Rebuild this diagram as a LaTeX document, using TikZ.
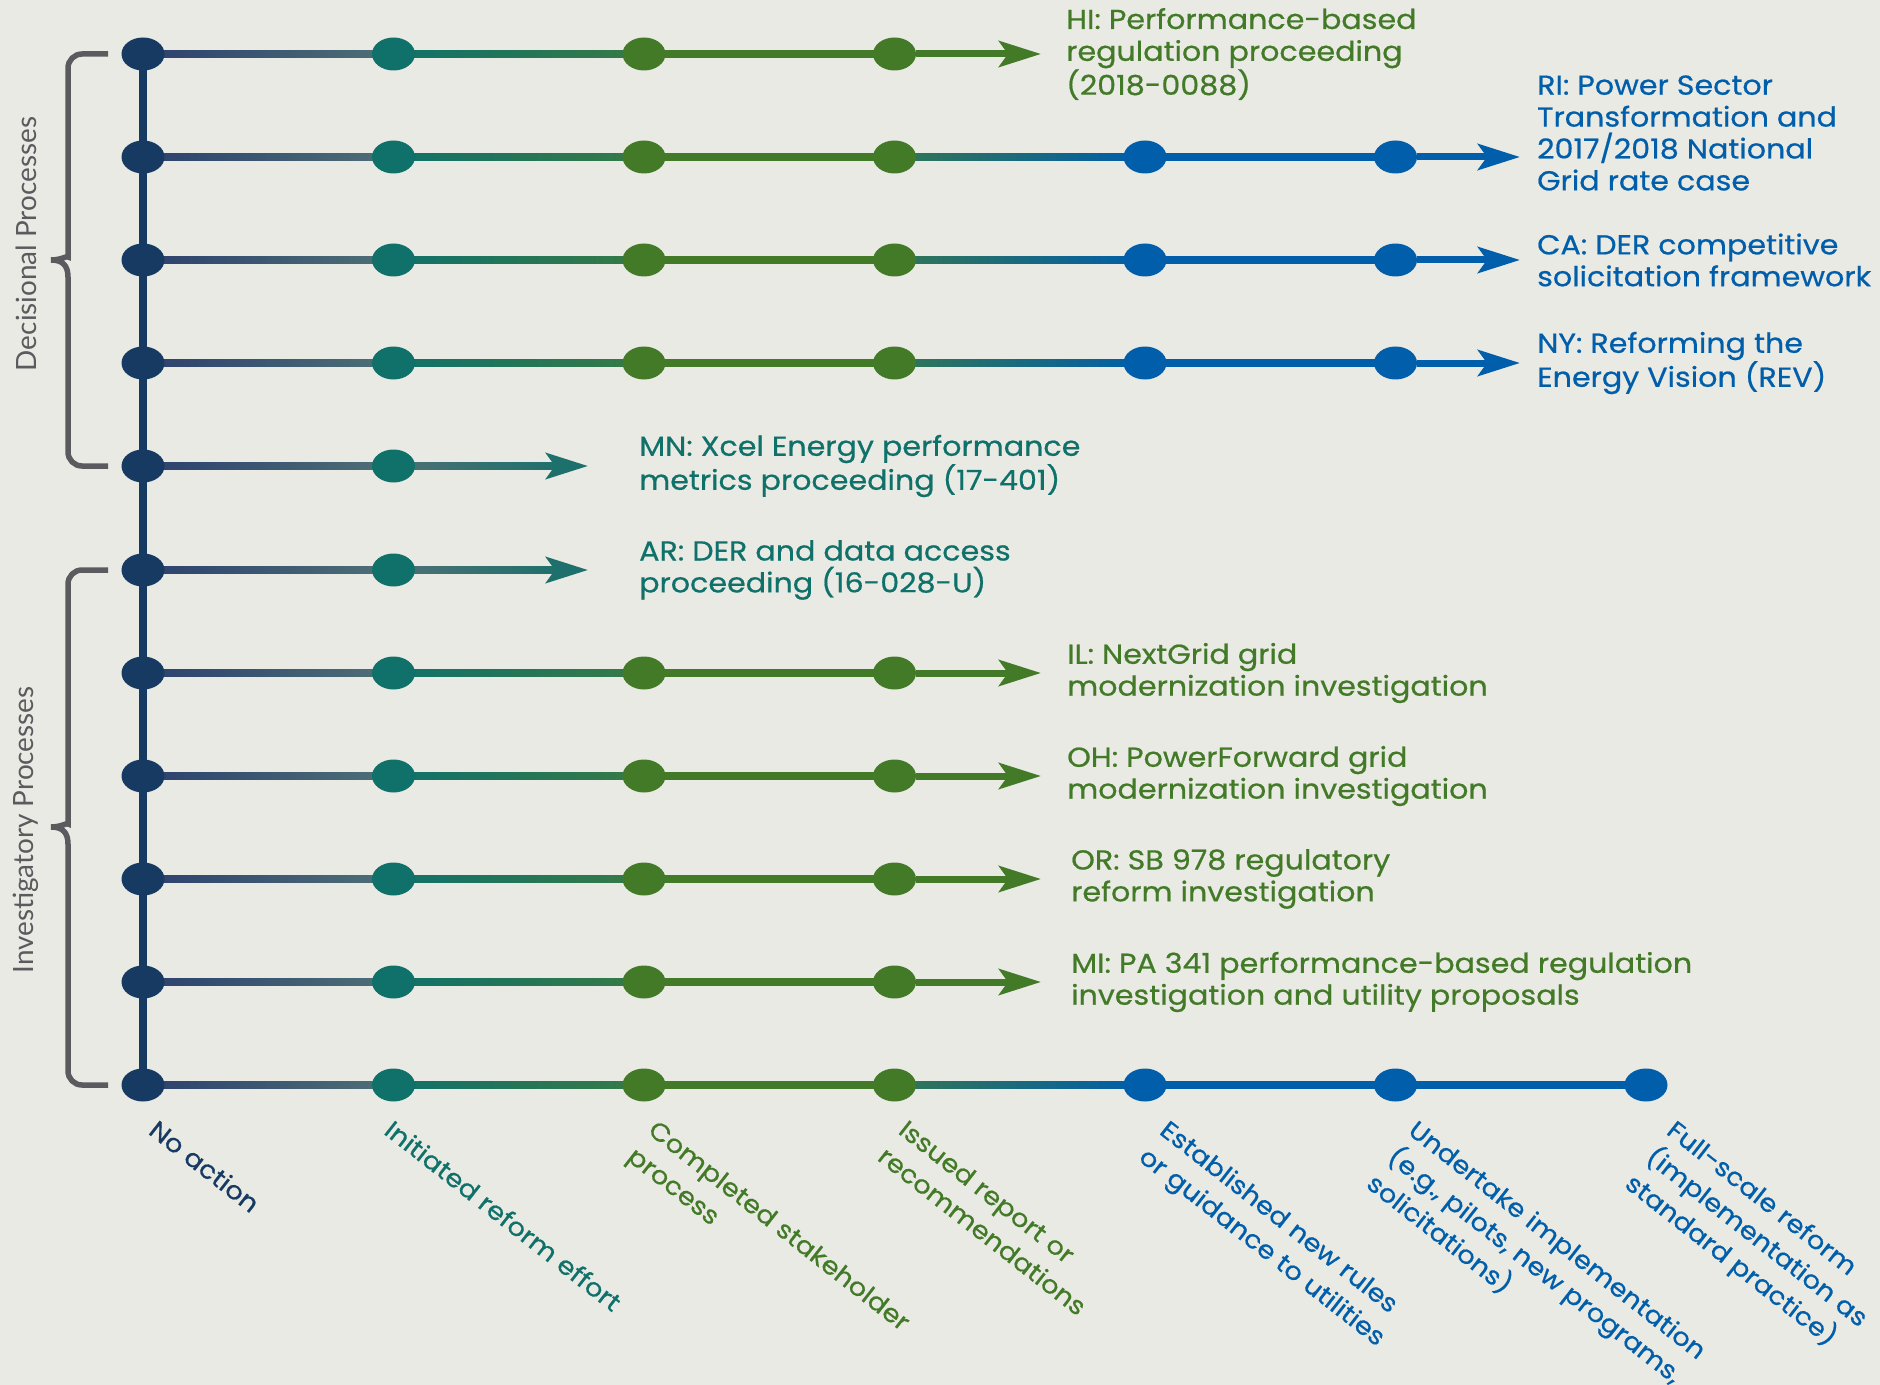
\documentclass[tikz,border=0pt]{standalone}
\usepackage{fontspec}
\setmainfont{Poppins}[FakeStretch=1.1,FakeBold=0.6]
\newfontfamily\sidefont{Lato}
\usetikzlibrary{arrows.meta,calc,shapes.geometric,backgrounds}

\definecolor{bg}{RGB}{234,234,228}
\definecolor{navy}{RGB}{22,58,98}
\definecolor{navyline}{RGB}{44,64,110}
\definecolor{slate}{RGB}{78,112,118}
\definecolor{tealc}{RGB}{16,113,106}
\definecolor{tealarr}{RGB}{30,112,108}
\definecolor{tealgrn}{RGB}{55,122,70}
\definecolor{grn}{RGB}{67,122,40}
\definecolor{grnblu}{RGB}{50,118,84}
\definecolor{blu}{RGB}{0,94,170}
\definecolor{bracegray}{RGB}{90,90,95}

% shaded piece of a row between two dots
\newcommand\lineseg[4]{\shade[left color=#3,right color=#4] ($(#1)+(0,-3.5)$) rectangle ($(#2)+(0,3.5)$);}

\begin{document}
\begin{tikzpicture}[x=1bp,y=-1bp,
  dot/.style={ellipse,minimum width=43bp,minimum height=33bp,inner sep=0pt},
  navydot/.style={dot,fill=navy},tealdot/.style={dot,fill=tealc},
  greendot/.style={dot,fill=grn},bluedot/.style={dot,fill=blu},
  arr/.style={line width=7bp,-{Stealth[length=42bp,width=26bp,inset=9bp]}},
  goal/.style={anchor=west,align=left,inner sep=0pt,font=\fontsize{27.5}{32}\selectfont},
  stage/.style={anchor=north west,align=left,rotate=-38,inner sep=0pt,font=\fontsize{25}{34}\selectfont},
  procbrace/.style={draw=bracegray,line width=5.5bp,rounded corners=14bp},
  side/.style={rotate=90,text=bracegray,font=\sidefont\fontsize{28}{34}\selectfont}]
\def\xA{143}\def\xB{393.5}\def\xC{644}\def\xD{894.5}\def\xE{1145}\def\xF{1395.5}\def\xG{1646}
\def\yA{54}\def\yB{157}\def\yC{260}\def\yD{363}\def\yE{466}\def\yF{570}
\def\yG{673}\def\yH{776}\def\yI{879}\def\yJ{982}\def\yK{1085}
\useasboundingbox (0,0) rectangle (1880,1385);
% dots
\node[navydot] (r1c1) at (\xA,\yA) {}; \node[tealdot] (r1c2) at (\xB,\yA) {}; \node[greendot] (r1c3) at (\xC,\yA) {}; \node[greendot] (r1c4) at (\xD,\yA) {};
\node[navydot] (r2c1) at (\xA,\yB) {}; \node[tealdot] (r2c2) at (\xB,\yB) {}; \node[greendot] (r2c3) at (\xC,\yB) {}; \node[greendot] (r2c4) at (\xD,\yB) {}; \node[bluedot] (r2c5) at (\xE,\yB) {}; \node[bluedot] (r2c6) at (\xF,\yB) {};
\node[navydot] (r3c1) at (\xA,\yC) {}; \node[tealdot] (r3c2) at (\xB,\yC) {}; \node[greendot] (r3c3) at (\xC,\yC) {}; \node[greendot] (r3c4) at (\xD,\yC) {}; \node[bluedot] (r3c5) at (\xE,\yC) {}; \node[bluedot] (r3c6) at (\xF,\yC) {};
\node[navydot] (r4c1) at (\xA,\yD) {}; \node[tealdot] (r4c2) at (\xB,\yD) {}; \node[greendot] (r4c3) at (\xC,\yD) {}; \node[greendot] (r4c4) at (\xD,\yD) {}; \node[bluedot] (r4c5) at (\xE,\yD) {}; \node[bluedot] (r4c6) at (\xF,\yD) {};
\node[navydot] (r5c1) at (\xA,\yE) {}; \node[tealdot] (r5c2) at (\xB,\yE) {};
\node[navydot] (r6c1) at (\xA,\yF) {}; \node[tealdot] (r6c2) at (\xB,\yF) {};
\node[navydot] (r7c1) at (\xA,\yG) {}; \node[tealdot] (r7c2) at (\xB,\yG) {}; \node[greendot] (r7c3) at (\xC,\yG) {}; \node[greendot] (r7c4) at (\xD,\yG) {};
\node[navydot] (r8c1) at (\xA,\yH) {}; \node[tealdot] (r8c2) at (\xB,\yH) {}; \node[greendot] (r8c3) at (\xC,\yH) {}; \node[greendot] (r8c4) at (\xD,\yH) {};
\node[navydot] (r9c1) at (\xA,\yI) {}; \node[tealdot] (r9c2) at (\xB,\yI) {}; \node[greendot] (r9c3) at (\xC,\yI) {}; \node[greendot] (r9c4) at (\xD,\yI) {};
\node[navydot] (r10c1) at (\xA,\yJ) {}; \node[tealdot] (r10c2) at (\xB,\yJ) {}; \node[greendot] (r10c3) at (\xC,\yJ) {}; \node[greendot] (r10c4) at (\xD,\yJ) {};
\node[navydot] (r11c1) at (\xA,\yK) {}; \node[tealdot] (r11c2) at (\xB,\yK) {}; \node[greendot] (r11c3) at (\xC,\yK) {}; \node[greendot] (r11c4) at (\xD,\yK) {}; \node[bluedot] (r11c5) at (\xE,\yK) {}; \node[bluedot] (r11c6) at (\xF,\yK) {}; \node[bluedot] (r11c7) at (\xG,\yK) {};
% arrow ends
\coordinate (t1) at (1041,\yA); \coordinate (t2) at (1520,\yB); \coordinate (t3) at (1520,\yC); \coordinate (t4) at (1520,\yD);
\coordinate (t5) at (588,\yE); \coordinate (t6) at (588,\yF);
\coordinate (t7) at (1041,\yG); \coordinate (t8) at (1041,\yH); \coordinate (t9) at (1041,\yI); \coordinate (t10) at (1041,\yJ);
\begin{scope}[on background layer]
\fill[bg] (0,0) rectangle (1880,1385);
\draw[navy,line width=8bp] (r1c1.center) -- (r11c1.center);
\foreach \r in {1,...,11} {\lineseg{r\r c1}{r\r c2}{navyline}{slate}}
\foreach \r in {1,2,3,4,7,8,9,10,11} {\lineseg{r\r c2}{r\r c3}{tealc}{tealgrn} \lineseg{r\r c3}{r\r c4}{grn}{grn}}
\foreach \r in {2,3,4,11} {\lineseg{r\r c4}{r\r c5}{grnblu}{blu} \lineseg{r\r c5}{r\r c6}{blu}{blu}}
\lineseg{r11c6}{r11c7}{blu}{blu}
\foreach \r in {1,7,8,9,10} {\draw[arr,grn] (r\r c4) -- (t\r);}
\foreach \r in {2,3,4} {\draw[arr,blu] (r\r c6) -- (t\r);}
\foreach \r in {5,6} {\lineseg{r\r c2}{$(t\r)+(-30,0)$}{slate}{tealarr} \draw[arr,tealarr] ($(t\r)+(-34,0)$) -- (t\r);}
\end{scope}
% braces and side titles
\draw[procbrace] (108,\yA) -- (68,\yA) -- (68,243) [sharp corners] .. controls (68,255) and (62,260) .. (51,260) .. controls (62,260) and (68,265) .. (68,277) [rounded corners=14bp] -- (68,\yE) -- (108,\yE);
\draw[procbrace] (108,\yF) -- (68,\yF) -- (68,810) [sharp corners] .. controls (68,822) and (62,827) .. (51,827) .. controls (62,827) and (68,832) .. (68,844) [rounded corners=14bp] -- (68,\yK) -- (108,\yK);
\node[side] (dec) at (26,244) {Decisional Processes};
\node[side] (inv) at (26,830) {Investigatory Processes};
% proceedings
\node[goal,text=grn] (hi) at (1066,\yA) {HI: Performance-based\\regulation proceeding\\(2018-0088)};
\node[goal,text=blu] (ri) at (1537,133) {RI: Power Sector\\Transformation and\\2017/2018 National\\Grid rate case};
\node[goal,text=blu] (ca) at (1537,\yC) {CA: DER competitive\\solicitation framework};
\node[goal,text=blu] (ny) at (1537,\yD) {NY: Reforming the\\Energy Vision (REV)};
\node[goal,text=tealc] (mn) at (639,\yE) {MN: Xcel Energy performance\\metrics proceeding (17-401)};
\node[goal,text=tealc] (ar) at (639,\yF) {AR: DER and data access\\proceeding (16-028-U)};
\node[goal,text=grn] (il) at (1067,\yG) {IL: NextGrid grid\\modernization investigation};
\node[goal,text=grn] (oh) at (1067,\yH) {OH: PowerForward grid\\modernization investigation};
\node[goal,text=grn] (or) at (1071,\yI) {OR: SB 978 regulatory\\reform investigation};
\node[goal,text=grn] (mi) at (1071,\yJ) {MI: PA 341 performance-based regulation\\investigation and utility proposals};
% stages
\node[stage,text=navy] (noact) at ($(r11c1)+(16,33)$) {No action};
\node[stage,text=tealc] (initd) at ($(r11c2)+(1,33)$) {Initiated reform effort};
\node[stage,text=grn] (compl) at ($(r11c3)+(14,33)$) {Completed stakeholder\\process};
\node[stage,text=grn] (issued) at ($(r11c4)+(14,33)$) {Issued report or\\recommendations};
\node[stage,text=blu] (estab) at ($(r11c5)+(25,33)$) {Established new rules\\or guidance to utilities};
\node[stage,text=blu] (undert) at ($(r11c6)+(23,33)$) {Undertake implementation\\(e.g., pilots, new programs,\\solicitations)};
\node[stage,text=blu] (fullsc) at ($(r11c7)+(31,33)$) {Full-scale reform\\(implementation as\\standard practice)};
\end{tikzpicture}
\end{document}
